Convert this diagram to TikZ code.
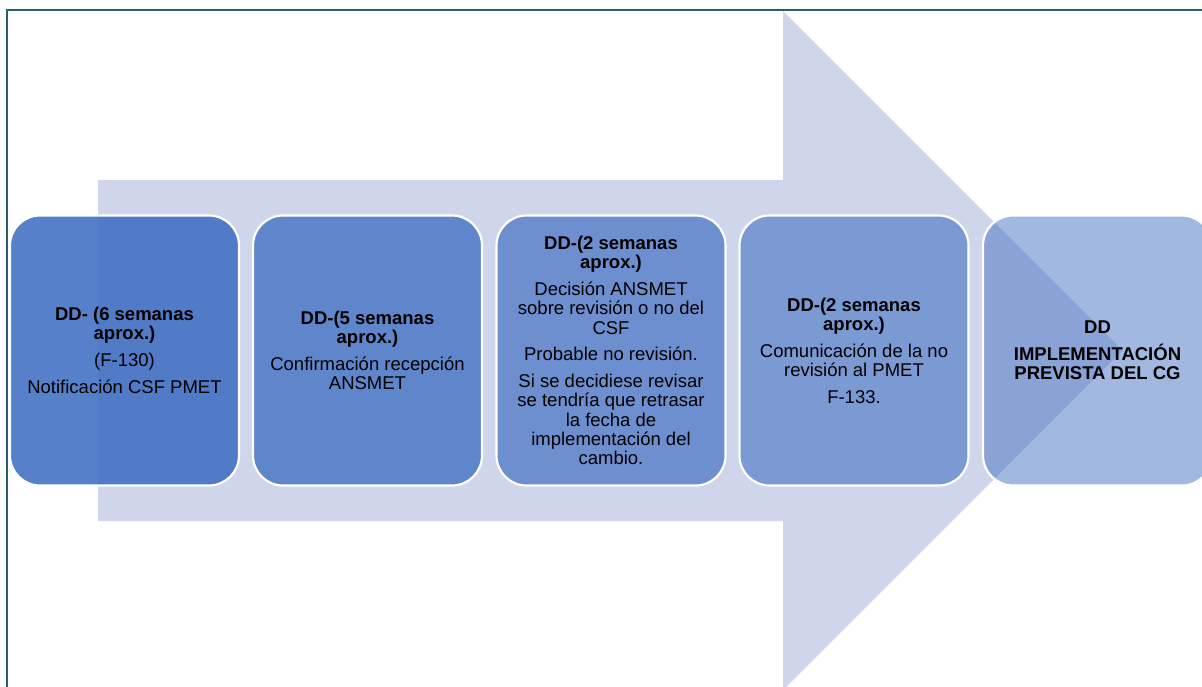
\documentclass[tikz,border=0pt]{standalone}
\usepackage{fontspec}
\setmainfont{Liberation Sans}
\definecolor{acc}{HTML}{4472C4}
\definecolor{arrowc}{HTML}{CFD5EA}
\definecolor{framec}{HTML}{2B5E6A}
\begin{document}
\begin{tikzpicture}[x=1pt,y=-1pt,
  stepbox/.style={rectangle, rounded corners=30pt, draw=white, line width=2.2pt,
    fill=acc, text opacity=1, draw opacity=1, minimum width=229pt, minimum height=270pt,
    align=center, inner sep=0pt, font=\fontsize{18.5}{19.3}\selectfont}]
\useasboundingbox (0,0) rectangle (1202,686);
\clip (0,0) rectangle (1202,686);
% big background arrow
\fill[arrowc] (98,180) -- (783,180) -- (783,11) -- (1122.5,350.5) -- (783,690)
  -- (783,521) -- (98,521) -- cycle;
% frame lines
\draw[framec, line width=1.7pt] (7.3,700) -- (7.3,10) -- (1220,10);
% steps
\node[stepbox, fill opacity=0.9] (b1) at (124.5,350.5)
  {\textbf{DD- (6 semanas}\\\textbf{aprox.)}\\[7.5pt](F-130)\\[7.5pt]Notificación CSF PMET};
\node[stepbox, fill opacity=0.8] (b2) at (367.5,350.5)
  {\textbf{DD-(5 semanas}\\\textbf{aprox.)}\\[7.5pt]Confirmación recepción\\ANSMET};
\node[stepbox, fill opacity=0.7] (b3) at (611,350.5)
  {\textbf{DD-(2 semanas}\\\textbf{aprox.)}\\[7.5pt]Decisión ANSMET\\sobre revisión o no del\\CSF\\[7.5pt]Probable no revisión.\\[7.5pt]Si se decidiese revisar\\se tendría que retrasar\\la fecha de\\implementación del\\cambio.};
\node[stepbox, fill opacity=0.6] (b4) at (854,350.5)
  {\textbf{DD-(2 semanas}\\\textbf{aprox.)}\\[7.5pt]Comunicación de la no\\revisión al PMET\\[7.5pt]F-133.};
\node[stepbox, fill opacity=0.5] (b5) at (1097.5,350.5)
  {\textbf{DD}\\[7.5pt]\textbf{IMPLEMENTACIÓN}\\\textbf{PREVISTA DEL CG}};
\end{tikzpicture}
\end{document}
